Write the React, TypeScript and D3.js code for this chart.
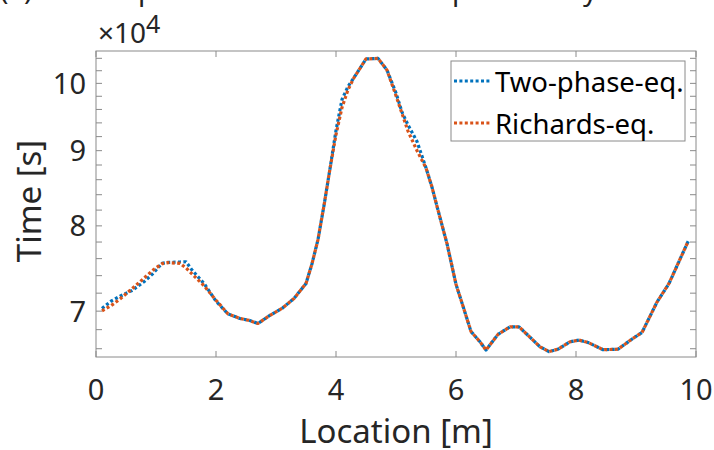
import React from "react";
import * as d3 from "d3";

const locations = [0.1, 0.25, 0.4, 0.6, 0.8, 0.95, 1.1, 1.2, 1.4, 1.5, 1.6, 1.8, 2.0, 2.2, 2.4, 2.55, 2.7, 2.9, 3.1, 3.3, 3.5, 3.6, 3.7, 3.8, 3.9, 4.0, 4.1, 4.2, 4.3, 4.5, 4.7, 4.85, 5.0, 5.1, 5.2, 5.35, 5.5, 5.6, 5.7, 5.85, 6.0, 6.1, 6.25, 6.4, 6.5, 6.7, 6.9, 7.05, 7.2, 7.4, 7.55, 7.7, 7.9, 8.05, 8.2, 8.45, 8.7, 8.95, 9.1, 9.2, 9.35, 9.55, 9.7, 9.87];

const twoPhaseEq = [70300, 71100, 71650, 72300, 73300, 74250, 75440, 75550, 75600, 75630, 74650, 73100, 71100, 69700, 69200, 69000, 68660, 69550, 70300, 71400, 73100, 75400, 78300, 82600, 87500, 92900, 97500, 99500, 100900, 103900, 103990, 102100, 98500, 95600, 93700, 91300, 87600, 85000, 82000, 77800, 73000, 70900, 67800, 66720, 65860, 67500, 68300, 68300, 67400, 66200, 65700, 65950, 66720, 66900, 66650, 65900, 65950, 67080, 67700, 69000, 71000, 73100, 75400, 78100];

const richardsEq = [70030, 70600, 71350, 72500, 73700, 74650, 75400, 75520, 75440, 74900, 74200, 72850, 71200, 69700, 69200, 69000, 68660, 69550, 70300, 71400, 73100, 75400, 78300, 82600, 87500, 92300, 96300, 99000, 100900, 103900, 103990, 102100, 98100, 95400, 92800, 90000, 87600, 85000, 82000, 77800, 73000, 70900, 67800, 66720, 65860, 67500, 68300, 68300, 67400, 66200, 65700, 65950, 66720, 66900, 66650, 65900, 65950, 67080, 67700, 69000, 71000, 73100, 75400, 78100];

const xTickValues = [0, 2, 4, 6, 8, 10];
const yTickValues = [70000, 80000, 90000, 100000];
const yTickLabels = ["7", "8", "9", "10"];
const seriesNames = ["Two-phase-eq.", "Richards-eq."];
const seriesColors = ["#0072BD", "#D95319"];

const FONT = "'Noto Sans', 'Open Sans', sans-serif";

export default function App() {
  const W = 714, H = 450;
  const L = 96, R = 696, T = 51, B = 357;
  const x = d3.scaleLinear().domain([0, 10]).range([L, R]);
  const y = d3.scaleLog().domain([65150, 105200]).range([B, T]);
  const minorY = d3.range(66000, 105000, 2000).filter((v) => v % 10000 !== 0);
  const allY = [...minorY, ...yTickValues];
  const tickLen = 6;
  const axisColor = "#8a8a8a";
  const textColor = "#262626";

  const mkLine = (vals: number[]) =>
    d3.line<number>().x((_, i) => x(locations[i])).y((d) => y(d))(vals) || "";

  const series = [twoPhaseEq, richardsEq];

  return (
    <div style={{ position: "fixed", left: 0, top: 0, width: W, height: H, background: "#fff" }}>
      <svg width={W} height={H} style={{ display: "block" }} fontFamily={FONT}>
        <rect x={0} y={0} width={W} height={H} fill="#fff" />
        {/* partial caption from above, cut off */}
        <g fontSize={28} fill="#222">
          <text x={0} y={0}>(a)</text>
          <text x={138} y={0}>p</text>
          <text x={452} y={0}>p</text>
          <text x={583} y={0}>y</text>
        </g>

        {/* y ticks both sides */}
        {allY.map((v) => (
          <g key={"yt" + v} stroke={axisColor} strokeWidth={1}>
            <line x1={L} x2={L + tickLen} y1={y(v)} y2={y(v)} />
            <line x1={R} x2={R - tickLen} y1={y(v)} y2={y(v)} />
          </g>
        ))}
        {/* x ticks top and bottom */}
        {xTickValues.map((v) => (
          <g key={"xt" + v} stroke={axisColor} strokeWidth={1}>
            <line x1={x(v)} x2={x(v)} y1={B} y2={B - tickLen} />
            <line x1={x(v)} x2={x(v)} y1={T} y2={T + tickLen} />
          </g>
        ))}
        {/* box */}
        <rect x={L} y={T} width={R - L} height={B - T} fill="none" stroke={axisColor} strokeWidth={1} />

        {/* y tick labels */}
        {yTickValues.map((v, i) => (
          <text key={"yl" + v} x={L - 10} y={y(v)} dy="0.36em" textAnchor="end" fontSize={29} fill={textColor}>
            {yTickLabels[i]}
          </text>
        ))}
        {/* x tick labels */}
        {xTickValues.map((v) => (
          <text key={"xl" + v} x={x(v)} y={400} textAnchor="middle" fontSize={29} fill={textColor}>
            {v}
          </text>
        ))}

        {/* exponent */}
        <text x={98} y={43} fontSize={28} fill={textColor}>
          <tspan>×10</tspan>
          <tspan dy={-10} fontSize={25}>4</tspan>
        </text>

        {/* axis labels */}
        <text x={(L + R) / 2} y={443} textAnchor="middle" fontSize={33} fill={textColor}>
          Location [m]
        </text>
        <text transform={`translate(41,${(T + B) / 2 - 3}) rotate(-90)`} textAnchor="middle" fontSize={33} fill={textColor}>
          Time [s]
        </text>

        {/* lines */}
        {series.map((s, i) => (
          <path key={"s" + i} d={mkLine(s)} fill="none" stroke={seriesColors[i]} strokeWidth={3.2}
            strokeDasharray="3 2.4" strokeLinejoin="round" />
        ))}

        {/* legend */}
        <rect x={451} y={61} width={234} height={80} fill="#fff" stroke={axisColor} strokeWidth={1} />
        {seriesNames.map((n, i) => {
          const cy = 81 + i * 42;
          return (
            <g key={"lg" + i}>
              <line x1={454} x2={491} y1={cy} y2={cy} stroke={seriesColors[i]} strokeWidth={3.2} strokeDasharray="3 2.4" />
              <text x={495} y={cy + 11} fontSize={27.5} fill="#000">{n}</text>
            </g>
          );
        })}
      </svg>
    </div>
  );
}
